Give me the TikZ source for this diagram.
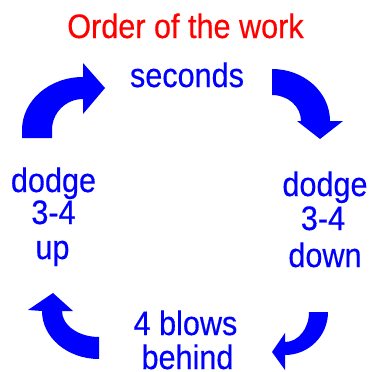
\documentclass[tikz,border=0pt]{standalone}
\usepackage{fontspec}
\newfontfamily\lblfont[FakeStretch=0.9,FakeBold=0.4]{Liberation Sans}
\definecolor{pureblue}{RGB}{0,0,255}
\definecolor{purered}{RGB}{255,0,0}
\begin{document}
\begin{tikzpicture}[x=1pt,y=-1pt,
  lbl/.style={anchor=base,inner sep=0pt,text=pureblue,font=\lblfont\fontsize{34}{40}\selectfont},
  ttl/.style={lbl,text=purered},
  blockarrow/.style={fill=pureblue,draw=none}]
\useasboundingbox[fill=white] (0,0) rectangle (370,372);
% texts
\node[ttl] (title) at (185.5,38) {Order of the work};
\node[lbl] (sec) at (187,87) {seconds};
\node[lbl] (lu1) at (53.5,192) {dodge};
\node[lbl] (lu2) at (53.5,224) {3-4};
\node[lbl] (lu3) at (52.5,259) {up};
\node[lbl] (rd1) at (325,196) {dodge};
\node[lbl] (rd2) at (323,230) {3-4};
\node[lbl] (rd3) at (325,267) {down};
\node[lbl] (bb1) at (185.5,335) {4 blows};
\node[lbl] (bb2) at (187.5,369) {behind};
% top-left arrow
\fill[blockarrow] (22,138) -- (22,130)
  arc[start angle=180,end angle=270,x radius=61,y radius=53]
  -- (83,63) -- (105,88) -- (83,114) -- (83,99)
  arc[start angle=270,end angle=180,radius=31]
  -- (52,138) -- cycle;
% top-right arrow
\fill[blockarrow] (272,69)
  arc[start angle=270,end angle=360,x radius=58,y radius=52]
  -- (343,121) -- (320,139) -- (297,121) -- (301,121)
  arc[start angle=360,end angle=270,x radius=29,y radius=26]
  -- cycle;
% bottom-right arrow
\fill[blockarrow] (309,312) -- (328,312)
  arc[start angle=0,end angle=90,radius=43]
  -- (285,370) -- (272,352) -- (285,333) -- (285,342)
  arc[start angle=90,end angle=0,x radius=24,y radius=30]
  -- cycle;
% bottom-left arrow
\fill[blockarrow] (53,293) -- (73,311) -- (62,311)
  arc[start angle=180,end angle=90,x radius=37,y radius=26]
  -- (99,359)
  arc[start angle=90,end angle=180,x radius=57,y radius=48]
  -- (28,310) -- cycle;
\end{tikzpicture}
\end{document}
